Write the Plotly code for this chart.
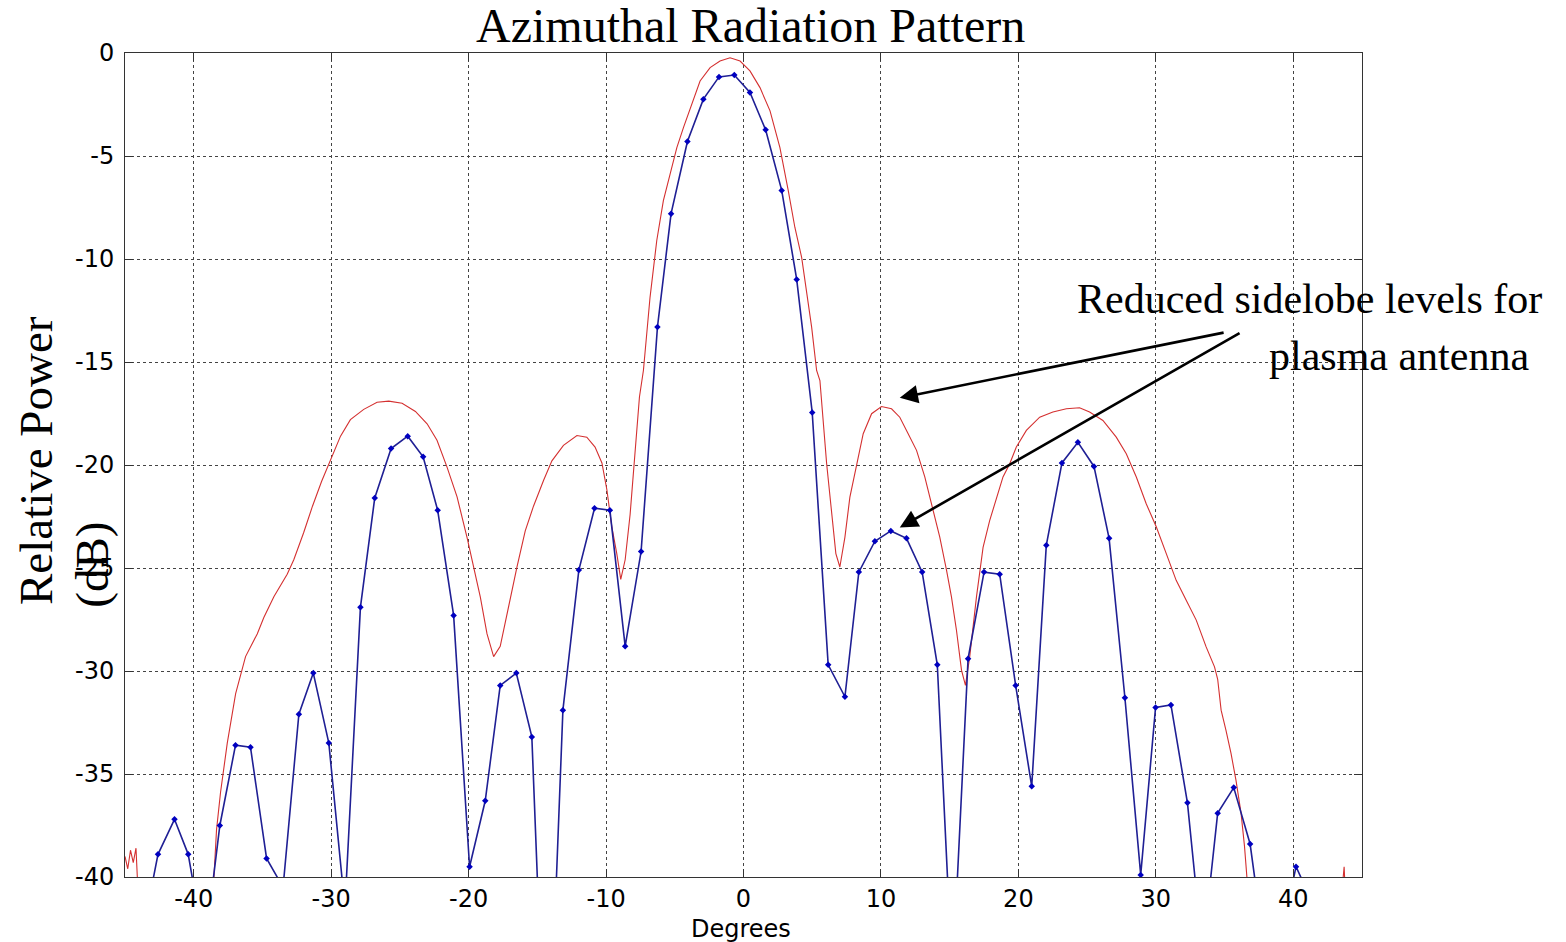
import plotly.graph_objects as go

# ---------------- data ----------------
# Blue: measured pattern with markers (plasma antenna)
blue_deg = [-43.8, -42.6, -41.4, -40.4, -39.2, -38.1, -36.96, -35.87, -34.7, -33.5,
            -32.35, -31.3, -30.17, -29.0, -27.87, -26.83, -25.64, -24.43, -23.31, -22.25,
            -21.09, -19.93, -18.79, -17.7, -16.53, -15.4, -14.3, -13.14, -11.98, -10.84,
            -9.72, -8.61, -7.45, -6.26, -5.27, -4.08, -2.92, -1.78, -0.67, 0.47,
            1.61, 2.78, 3.87, 5.0, 6.16, 7.38, 8.39, 9.56, 10.72, 11.86,
            13.0, 14.1, 15.2, 16.34, 17.5, 18.64, 19.8, 20.97, 22.03, 23.17,
            24.33, 25.5, 26.6, 27.75, 28.9, 29.98, 31.1, 32.3, 33.4, 34.5,
            35.67, 36.86, 38.0, 39.1, 40.2, 41.3]
blue_db = [-43, -38.9, -37.2, -38.9, -43.5, -37.5, -33.6, -33.7, -39.1, -40.5,
           -32.1, -30.1, -33.5, -41.5, -26.9, -21.6, -19.2, -18.6, -19.6, -22.2,
           -27.3, -39.5, -36.3, -30.7, -30.1, -33.2, -52, -31.9, -25.1, -22.1,
           -22.2, -28.8, -24.2, -13.3, -7.8, -4.3, -2.24, -1.16, -1.07, -1.92,
           -3.73, -6.67, -10.99, -17.45, -29.7, -31.25, -25.2, -23.7, -23.2, -23.56,
           -25.2, -29.7, -45, -29.4, -25.2, -25.3, -30.7, -35.6, -23.9, -19.9,
           -18.9, -20.07, -23.56, -31.3, -39.9, -31.77, -31.65, -36.4, -43.7, -36.9,
           -35.66, -38.4, -44, -43, -39.5, -41.1]

# Red: reference (metal) antenna pattern
red_deg = [-45.0, -44.8, -44.6, -44.4, -44.2, -44.0, -38.7, -38.53, -38.34, -38.05,
           -37.56, -36.95, -36.23, -35.38, -34.9, -34.17, -33.2, -32.72, -32.01, -31.36,
           -30.7, -30.05, -29.32, -28.6, -27.63, -26.66, -25.81, -24.84, -23.87, -23.02,
           -22.3, -21.57, -20.84, -20.12, -19.64, -19.15, -18.66, -18.18, -17.7, -17.21,
           -16.48, -15.88, -15.28, -14.55, -13.94, -13.1, -12.12, -11.4, -10.8, -10.3,
           -9.94, -9.58, -9.22, -8.93, -8.61, -8.25, -7.88, -7.57, -7.28, -6.8,
           -6.31, -5.83, -5.34, -4.85, -4.37, -3.76, -3.16, -2.43, -1.71, -0.98,
           -0.25, 0.47, 1.2, 1.93, 2.65, 3.26, 3.74, 4.23, 4.59, 4.96,
           5.32, 5.56, 6.05, 6.41, 6.72, 7.01, 7.38, 7.74, 8.23, 8.71,
           9.32, 10.04, 10.77, 11.37, 11.98, 12.59, 13.19, 13.79, 14.28, 14.77,
           15.13, 15.49, 15.86, 16.15, 16.46, 16.95, 17.43, 17.91, 18.4, 18.88,
           19.37, 19.85, 20.58, 21.55, 22.51, 23.49, 24.45, 25.18, 26.15, 27.12,
           27.85, 28.58, 29.3, 30.03, 30.76, 31.48, 32.21, 32.94, 33.66, 34.27,
           34.5, 34.75, 35.1, 35.47, 35.83, 36.2, 36.45, 36.6, 36.8, 43.5,
           43.7, 43.8]
red_db = [-39.0, -39.6, -38.7, -39.3, -38.6, -41.5, -41.0, -40.0, -37.7, -35.9,
          -33.5, -31.1, -29.3, -28.2, -27.4, -26.4, -25.3, -24.6, -23.3, -22.0,
          -20.8, -19.8, -18.6, -17.8, -17.3, -16.95, -16.9, -17.0, -17.4, -18.0,
          -18.8, -20.1, -21.55, -23.5, -24.9, -26.4, -28.2, -29.3, -28.8, -27.2,
          -24.95, -23.2, -22.0, -20.75, -19.8, -19.05, -18.57, -18.65, -19.13, -19.9,
          -21.2, -23.0, -24.3, -25.55, -24.6, -22.4, -19.1, -16.7, -15.4, -11.86,
          -9.1, -7.17, -5.88, -4.59, -3.62, -2.49, -1.36, -0.71, -0.39, -0.23,
          -0.39, -0.87, -1.68, -2.81, -4.59, -6.69, -8.47, -9.92, -11.54, -13.32,
          -15.41, -15.9, -19.94, -22.36, -24.3, -24.95, -23.5, -21.56, -19.94, -18.48,
          -17.51, -17.16, -17.27, -17.68, -18.48, -19.29, -20.58, -22.2, -23.5, -25.1,
          -26.4, -28.0, -29.96, -30.7, -29.3, -26.4, -24.0, -22.7, -21.6, -20.58,
          -19.94, -19.13, -18.32, -17.68, -17.43, -17.27, -17.22, -17.43, -17.84, -18.65,
          -19.45, -20.58, -21.88, -23.0, -24.3, -25.6, -26.56, -27.53, -28.83, -29.8,
          -30.4, -31.9, -32.87, -34.0, -35.3, -36.9, -38.5, -39.9, -41.5, -41.0,
          -39.5, -41.0]

x_ticks = [-40, -30, -20, -10, 0, 10, 20, 30, 40]
x_tick_text = ["-40", "-30", "-20", "-10", "0", "10", "20", "30", "40"]
y_ticks = [0, -5, -10, -15, -20, -25, -30, -35, -40]
y_tick_text = ["0", "-5", "-10", "-15", "-20", "-25", "-30", "-35", "-40"]

title_text = "Azimuthal Radiation Pattern"
x_label = "Degrees"
y_label_1 = "Relative Power"
y_label_2 = "(dB)"
note_1 = "Reduced sidelobe levels for"
note_2 = "plasma antenna"

# arrow heads (sidelobe peaks) and tails (near the note), in data units
arrow_heads = [(11.37, -16.74), (11.37, -23.04)]
arrow_tails = [(35.04, -13.56), (36.2, -13.56)]

# ---------------- figure ----------------
serif = "Liberation Serif, Times New Roman, serif"
sans = "DejaVu Sans, Arial, sans-serif"

fig = go.Figure()
fig.add_trace(go.Scatter(x=red_deg, y=red_db, mode="lines",
                         line=dict(color="#d43030", width=1.1),
                         showlegend=False, hoverinfo="skip"))
fig.add_trace(go.Scatter(x=blue_deg, y=blue_db, mode="lines+markers",
                         line=dict(color="#1f1f94", width=1.6),
                         marker=dict(color="#0000c0", size=5, symbol="diamond"),
                         showlegend=False, hoverinfo="skip"))

axis_common = dict(showline=True, linecolor="#333333", linewidth=1, mirror="ticks",
                   ticks="inside", ticklen=8, tickcolor="#333333",
                   showgrid=True, gridcolor="#444444", gridwidth=1, griddash="dot",
                   zeroline=False, tickfont=dict(family=sans, size=24, color="#000000"))

fig.update_xaxes(range=[-45, 45], tickvals=x_ticks, ticktext=x_tick_text,
                 ticklabelstandoff=0, **axis_common)
fig.update_yaxes(range=[-40, 0], tickvals=y_ticks, ticktext=y_tick_text,
                 ticklabelstandoff=5, **axis_common)

annotations = [
    dict(text=title_text, xref="paper", yref="paper", x=0.506, y=1.033,
         xanchor="center", yanchor="middle", showarrow=False,
         font=dict(family=serif, size=48, color="#000000")),
    dict(text=x_label, xref="paper", yref="paper", x=0.498, y=-0.0635,
         xanchor="center", yanchor="middle", showarrow=False,
         font=dict(family=sans, size=24, color="#000000")),
    dict(text=y_label_1, xref="paper", yref="paper", x=-0.072, y=0.506,
         xanchor="center", yanchor="middle", showarrow=False, textangle=-90,
         font=dict(family=serif, size=47, color="#000000")),
    dict(text=y_label_2, xref="paper", yref="paper", x=-0.0267, y=0.379,
         xanchor="center", yanchor="middle", showarrow=False, textangle=-90,
         font=dict(family=serif, size=47, color="#000000")),
    dict(text=note_1, xref="paper", yref="paper", x=0.768, y=0.7015,
         xanchor="left", yanchor="middle", showarrow=False,
         font=dict(family=serif, size=42, color="#000000")),
    dict(text=note_2, xref="paper", yref="paper", x=0.9232, y=0.6323,
         xanchor="left", yanchor="middle", showarrow=False,
         font=dict(family=serif, size=42, color="#000000")),
]
for (hx, hy), (tx, ty) in zip(arrow_heads, arrow_tails):
    annotations.append(dict(x=hx, y=hy, ax=tx, ay=ty, xref="x", yref="y",
                            axref="x", ayref="y", text="", showarrow=True,
                            arrowhead=2, arrowsize=1.4, arrowwidth=2.6,
                            arrowcolor="#000000", standoff=0, startstandoff=0))

fig.update_layout(width=1566, height=942,
                  margin=dict(l=125, r=204, t=53, b=65),
                  paper_bgcolor="#ffffff", plot_bgcolor="#ffffff",
                  annotations=annotations, showlegend=False)

fig.write_html("out.html")
